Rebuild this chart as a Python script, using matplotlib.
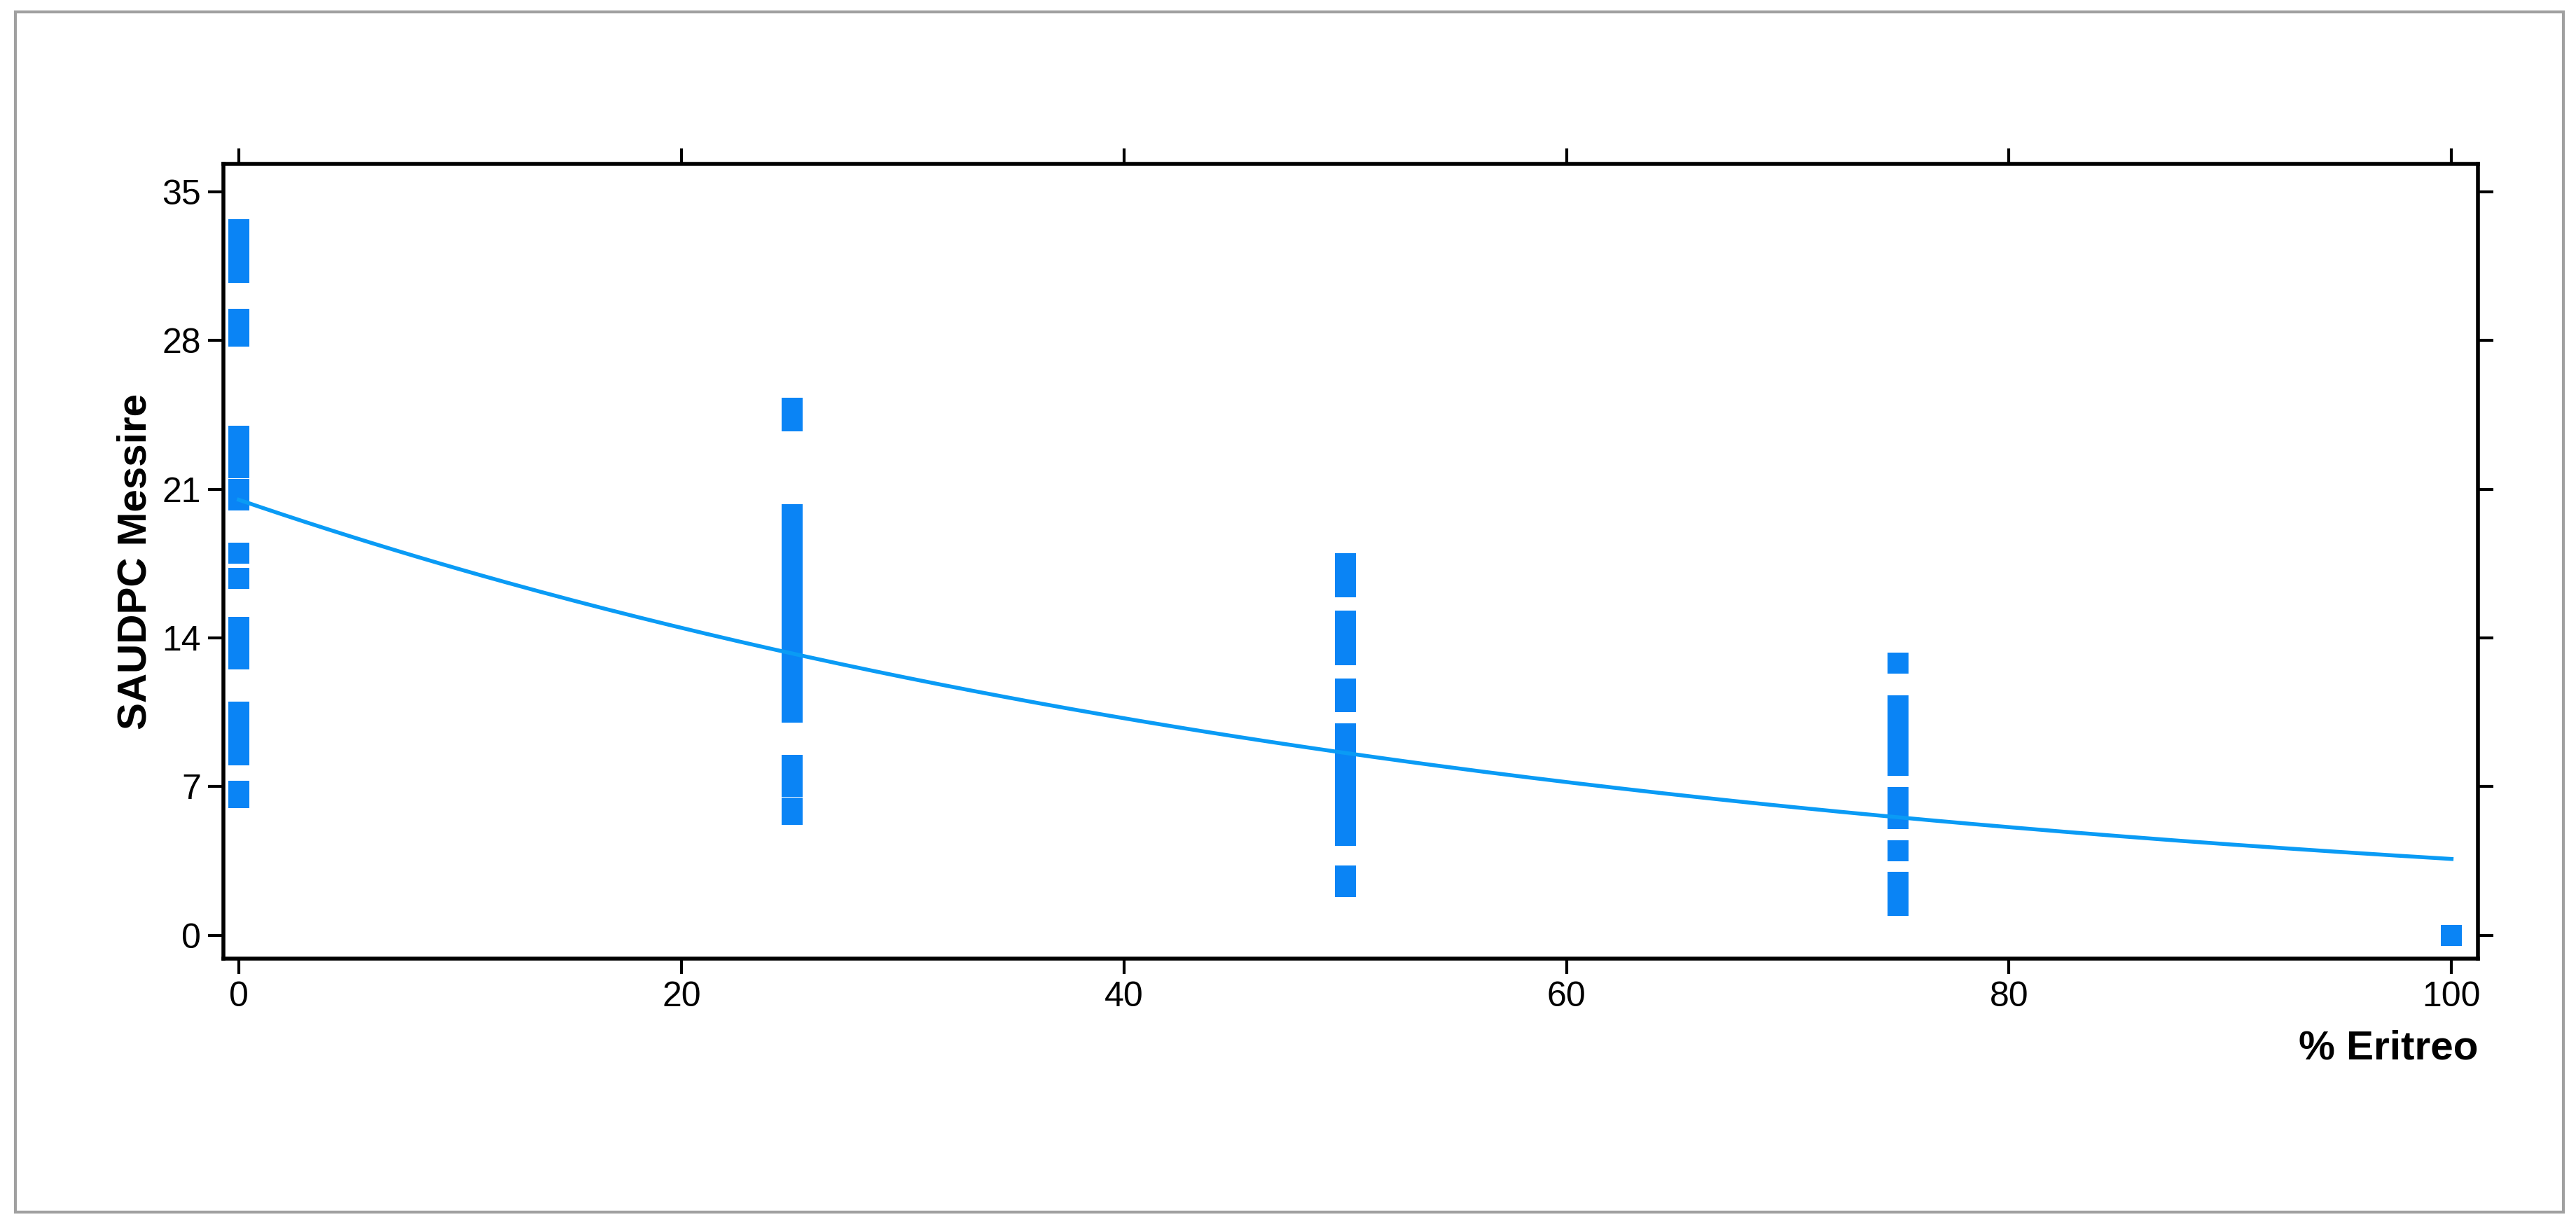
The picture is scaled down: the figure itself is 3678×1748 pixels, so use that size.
import matplotlib.pyplot as plt
import numpy as np
from matplotlib.patches import Rectangle

plt.rcParams['font.family'] = ['Liberation Sans', 'DejaVu Sans']

# % Eritreo and SAUDPC values
x0 = [0] * 28
y0 = [33.2, 32.8, 32.4, 32, 31.6, 31.2, 29, 28.6, 28.2, 23.5, 23, 22.5, 22, 21, 20.5,
      18, 16.8, 14.5, 14, 13.5, 13, 10.5, 10, 9.5, 9, 8.5, 6.8, 6.5]
x25 = [25] * 24
y25 = [24.8, 24.2, 19.8, 19.2, 18.6, 18, 17.5, 17, 16.5, 16, 15.5, 15, 14.5, 14, 13.5,
       12.8, 12.2, 11.6, 11, 10.5, 8, 7, 6, 5.7]
x50 = [50] * 22
y50 = [17.5, 17, 16.4, 14.8, 14.2, 13.2, 11.6, 11, 9.5, 9, 8.5, 8, 7.5, 7, 6.5, 6,
       5.5, 5, 4.7, 2.6, 2.3, 2.8]
x75 = [75] * 18
y75 = [12.8, 10.8, 10.4, 10, 9.6, 9.2, 8.8, 8.4, 8, 6.5, 6, 5.5, 4, 2.5, 2.2, 1.9, 1.6, 1.4]
x100 = [100]
y100 = [0]

# fitted exponential curve
fit_a = 20.5
fit_b = 0.0174

xs = x0 + x25 + x50 + x75 + x100
ys = y0 + y25 + y50 + y75 + y100
blue = '#0A84F5'

fig = plt.figure(figsize=(18.39, 8.74), dpi=200)
ax = fig.add_axes([0.0867, 0.217, 0.8753, 0.649])
ax.scatter(xs, ys, marker='s', s=11 ** 2, color=blue, linewidths=0, zorder=3)
xf = np.linspace(0, 100, 200)
ax.plot(xf, fit_a * np.exp(-fit_b * xf), color='#0A9BF5', lw=2, zorder=4)

ax.set_xlim(-0.7, 101.2)
ax.set_ylim(-1.08, 36.3)
ax.set_xticks([0, 20, 40, 60, 80, 100])
ax.set_yticks([0, 7, 14, 21, 28, 35])
ax.tick_params(direction='out', length=8, width=1.5, labelsize=18,
               top=True, right=True, labeltop=False, labelright=False)
for s in ax.spines.values():
    s.set_linewidth(2)
ax.set_ylabel('SAUDPC Messire', fontsize=21, fontweight='bold')
ax.text(1.0, -0.09, '% Eritreo', transform=ax.transAxes, ha='right', va='top',
        fontsize=21, fontweight='bold')

fig.patches.append(Rectangle((0.006, 0.01), 0.989, 0.98, transform=fig.transFigure,
                             fill=False, edgecolor='#A0A0A0', lw=1.5))
fig.savefig('out.png')
